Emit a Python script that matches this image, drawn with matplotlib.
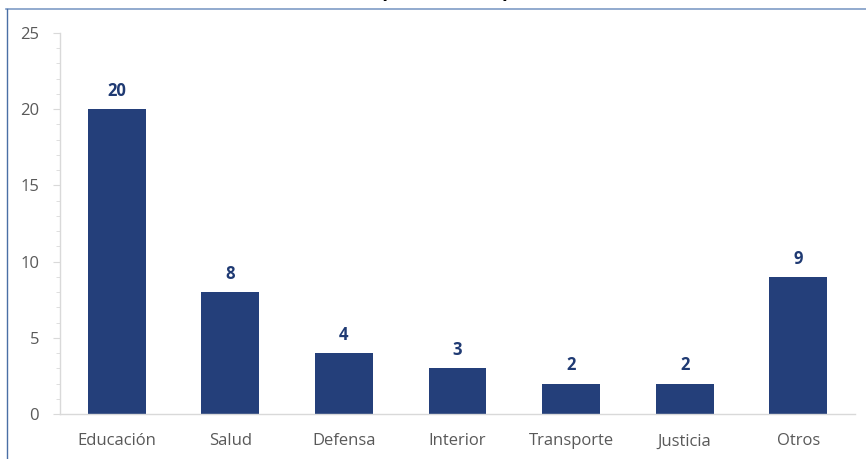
import matplotlib
matplotlib.use("Agg")
import matplotlib.pyplot as plt
from matplotlib.lines import Line2D
from matplotlib.ticker import MultipleLocator

categories = ["Educación", "Salud", "Defensa", "Interior", "Transporte", "Justicia", "Otros"]
values = [20, 8, 4, 3, 2, 2, 9]
y_ticks = [0, 5, 10, 15, 20, 25]

bar_color = "#243F7A"
label_color = "#1F3A73"
tick_color = "#595959"
spine_color = "#D9D9D9"

plt.rcParams["font.family"] = ["Open Sans", "DejaVu Sans"]

W, H = 866, 459
fig = plt.figure(figsize=(W / 100, H / 100), dpi=100)
ax = fig.add_axes([60 / W, (H - 414) / H, 795 / W, (414 - 33) / H])

x = range(len(categories))
bars = ax.bar(x, values, width=0.51, color=bar_color, zorder=2)
for rect, v in zip(bars, values):
    ax.text(rect.get_x() + rect.get_width() / 2, v + 0.6, str(v),
            ha="center", va="bottom", fontsize=12, fontweight="bold", color=label_color)

ax.set_xlim(-0.5, len(categories) - 0.5)
ax.set_ylim(0, 25)
ax.set_xticks(list(x))
ax.set_xticklabels(categories)
ax.set_yticks(y_ticks)
ax.yaxis.set_minor_locator(MultipleLocator(1))

for side in ["top", "right"]:
    ax.spines[side].set_visible(False)
ax.spines["left"].set_color(spine_color)
ax.spines["bottom"].set_color(spine_color)
ax.spines["left"].set_linewidth(1.0)
ax.spines["bottom"].set_linewidth(1.0)

ax.tick_params(axis="x", length=0, pad=14, labelsize=12, labelcolor=tick_color)
ax.tick_params(axis="y", which="major", length=5, color=spine_color, pad=10,
               labelsize=12, labelcolor=tick_color)
ax.tick_params(axis="y", which="minor", length=3, color=spine_color)

# frame lines of the cropped screenshot
fig.add_artist(Line2D([6 / W, 1], [1 - 9 / H, 1 - 9 / H], color="#7F9CC6", lw=1.2))
fig.add_artist(Line2D([7 / W, 7 / W], [0, 1 - 9 / H], color="#4A6FA5", lw=1.0))

# bottom of the cut-off title
fig.text(445 / W, 1.0 + 9 / H, "(                    )", ha="center", va="center",
         fontsize=16, fontweight="bold", color="black")

fig.savefig("out.png", dpi=100)
